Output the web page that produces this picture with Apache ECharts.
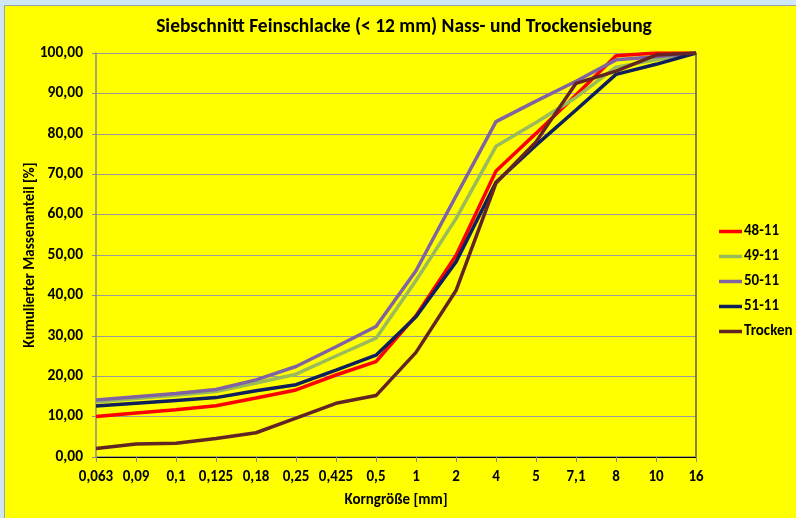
<!DOCTYPE html>
<html>
<head>
<meta charset="utf-8">
<script src="https://cdn.jsdelivr.net/npm/echarts@6/dist/echarts.min.js"></script>
<style>
  html, body { margin: 0; padding: 0; width: 796px; height: 518px; background: #cfe6f4; overflow: hidden; }
  #chart { position: absolute; left: 4px; top: 5px; width: 792px; height: 513px; border-left: 1px solid #9aa4aa; border-top: 1px solid #9aa4aa; }
</style>
</head>
<body>
<div id="chart"></div>
<script>
const titleText = 'Siebschnitt Feinschlacke (< 12 mm) Nass- und Trockensiebung';
const xAxisName = 'Korngröße [mm]';
const yAxisName = 'Kumulierter Massenanteil [%]';
const categories = ['0,063','0,09','0,1','0,125','0,18','0,25','0,425','0,5','1','2','4','5','7,1','8','10','16'];
const seriesNames = ['48-11','49-11','50-11','51-11','Trocken'];
const s48_11 = [10.0, 10.9, 11.7, 12.7, 14.6, 16.6, 20.3, 23.6, 35.0, 49.9, 70.8, 80.1, 89.6, 99.3, 100, 100];
const s49_11 = [13.6, 14.5, 15.3, 16.2, 18.3, 20.5, 25.0, 29.4, 43.7, 59.0, 76.9, 82.8, 89.0, 96.5, 98.3, 100];
const s50_11 = [14.1, 14.9, 15.7, 16.7, 19.1, 22.4, 27.3, 32.3, 46.1, 64.6, 83.0, 88.1, 93.0, 98.3, 99.1, 100];
const s51_11 = [12.6, 13.3, 14.0, 14.7, 16.4, 17.9, 21.5, 25.2, 34.7, 48.3, 68.0, 77.2, 85.9, 94.7, 97.2, 100];
const sTrocken = [2.1, 3.2, 3.4, 4.6, 6.0, 9.6, 13.3, 15.2, 25.9, 41.2, 67.8, 78.0, 92.5, 95.5, 99.5, 100];
const seriesData = [s48_11, s49_11, s50_11, s51_11, sTrocken];
const colors = ['#ff0000', '#9bbb59', '#8064a2', '#0e1f5b', '#632523'];

const FONT = 'Carlito, Lato, "Open Sans", sans-serif';
const chart = echarts.init(document.getElementById('chart'), null, { renderer: 'canvas' });
const fmt = v => v.toFixed(2).replace('.', ',');

chart.setOption({
  backgroundColor: '#ffff00',
  animation: false,
  color: colors,
  title: {
    text: titleText,
    left: 394, top: 6, textAlign: 'center',
    textStyle: { fontFamily: FONT, fontSize: 19.5, fontWeight: 'bold', color: '#000' }
  },
  legend: {
    orient: 'vertical', left: 709, top: 213,
    icon: 'rect', itemWidth: 23, itemHeight: 3.5, itemGap: 10,
    textStyle: { fontFamily: FONT, fontSize: 15, fontWeight: 'bold', color: '#000', lineHeight: 15, padding: [0, 0, 0, -3] },
    data: seriesNames
  },
  grid: { left: 91, right: 101, top: 47, bottom: 62 },
  xAxis: [{
    type: 'category', data: categories, boundaryGap: false,
    name: xAxisName, nameLocation: 'middle', nameGap: 36, nameMoveOverlap: false,
    nameTextStyle: { fontFamily: FONT, fontSize: 15, fontWeight: 'bold', color: '#000' },
    axisLine: { lineStyle: { color: '#8c8c8c', width: 1.5 } },
    axisTick: { show: true, length: 5, inside: false, alignWithLabel: true, lineStyle: { color: '#8c8c8c' } },
    axisLabel: { margin: 13, fontFamily: FONT, fontSize: 15, fontWeight: 'bold', color: '#000', interval: 0 },
    splitLine: { show: false }
  }, {
    type: 'category', data: categories, boundaryGap: false, position: 'top',
    axisLine: { lineStyle: { color: '#000', width: 1.2 } },
    axisTick: { show: false }, axisLabel: { show: false }, splitLine: { show: false }
  }],
  yAxis: [{
    type: 'value', min: 0, max: 100, interval: 10,
    name: yAxisName, nameLocation: 'middle', nameGap: 58, nameRotate: 90, nameMoveOverlap: false,
    nameTextStyle: { fontFamily: FONT, fontSize: 15, fontWeight: 'bold', color: '#000' },
    axisLine: { show: true, lineStyle: { color: '#8c8c8c', width: 1.5 } },
    axisTick: { show: true, length: 4, lineStyle: { color: '#8c8c8c' } },
    axisLabel: { margin: 13, fontFamily: FONT, fontSize: 15.5, fontWeight: 'bold', color: '#000', formatter: fmt },
    splitLine: { show: true, lineStyle: { color: '#9a9a9a', width: 1.2 } }
  }, {
    type: 'value', min: 0, max: 100, interval: 10, position: 'right',
    axisLine: { show: true, lineStyle: { color: '#5a5a40', width: 1.5 } },
    axisTick: { show: false }, axisLabel: { show: false }, splitLine: { show: false }
  }],
  series: seriesNames.map((n, i) => ({
    name: n, type: 'line', data: seriesData[i],
    xAxisIndex: 0, yAxisIndex: 0,
    showSymbol: false, symbol: 'none',
    lineStyle: { width: 3.5, color: colors[i] },
    itemStyle: { color: colors[i] },
    z: 2 + i
  }))
});
</script>
</body>
</html>
